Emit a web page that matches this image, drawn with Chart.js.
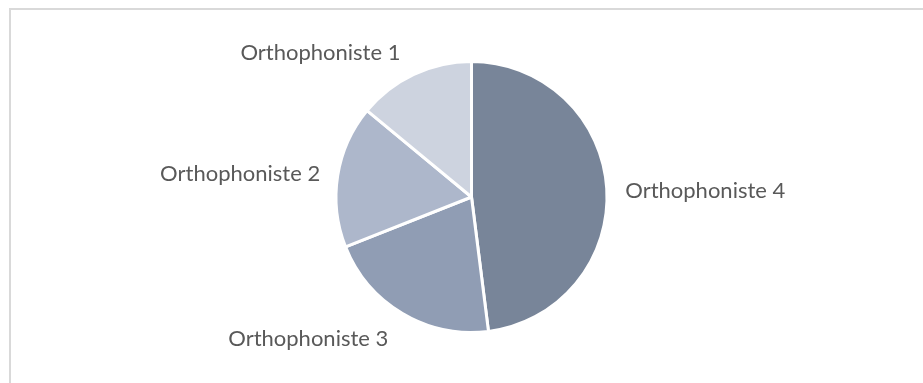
<!DOCTYPE html>
<html>
<head>
<meta charset="utf-8">
<script src="https://cdn.jsdelivr.net/npm/chart.js@4/dist/chart.umd.min.js"></script>
<style>
  html, body { margin: 0; padding: 0; background: #fff; overflow: hidden; }
  #wrap { position: relative; width: 923px; height: 383px; }
  #frame {
    position: absolute; left: 9px; top: 8px; right: -20px; bottom: -20px;
    border-top: 2px solid #d9d9d9; border-left: 2px solid #d9d9d9;
  }
  #pie { position: absolute; left: 0; top: 0; }
</style>
</head>
<body>
<div id="wrap">
  <div id="frame"></div>
  <canvas id="pie" width="923" height="383"></canvas>
</div>
<script>
  // slices run clockwise from 12 o'clock
  const labels = ["Orthophoniste 4", "Orthophoniste 3", "Orthophoniste 2", "Orthophoniste 1"];
  const values = [48, 21, 17, 14];
  const colors = ["#788599", "#909db4", "#adb7cb", "#cdd3df"];

  // where each label sits relative to the slice's outer edge at mid-angle
  const labelNudge = [
    { dx: 20, dy: 9, align: "left" },
    { dx: -15, dy: 34, align: "right" },
    { dx: -19, dy: 5, align: "right" },
    { dx: -14, dy: -16, align: "right" }
  ];

  const outsideLabels = {
    id: "outsideLabels",
    afterDatasetsDraw(chart) {
      const ctx = chart.ctx;
      const arcs = chart.getDatasetMeta(0).data;
      ctx.save();
      ctx.font = "22px Lato";
      ctx.fillStyle = "#595959";
      ctx.textBaseline = "alphabetic";
      arcs.forEach((arc, i) => {
        const p = arc.getProps(["x", "y", "startAngle", "endAngle", "outerRadius"], true);
        const mid = (p.startAngle + p.endAngle) / 2;
        const r = p.outerRadius - 1.5;
        const ex = p.x + Math.cos(mid) * r;
        const ey = p.y + Math.sin(mid) * r;
        const n = labelNudge[i];
        ctx.textAlign = n.align;
        ctx.fillText(labels[i], ex + n.dx, ey + n.dy);
      });
      ctx.restore();
    }
  };

  new Chart(document.getElementById("pie"), {
    type: "pie",
    data: {
      labels,
      datasets: [{
        data: values,
        backgroundColor: colors,
        borderColor: "#ffffff",
        borderWidth: 3,
        hoverOffset: 0
      }]
    },
    options: {
      responsive: false,
      animation: false,
      radius: 135.5,
      layout: { padding: { left: 20, right: 0, top: 11, bottom: 0 } },
      plugins: {
        legend: { display: false },
        tooltip: { enabled: false }
      }
    },
    plugins: [outsideLabels]
  });
</script>
</body>
</html>
